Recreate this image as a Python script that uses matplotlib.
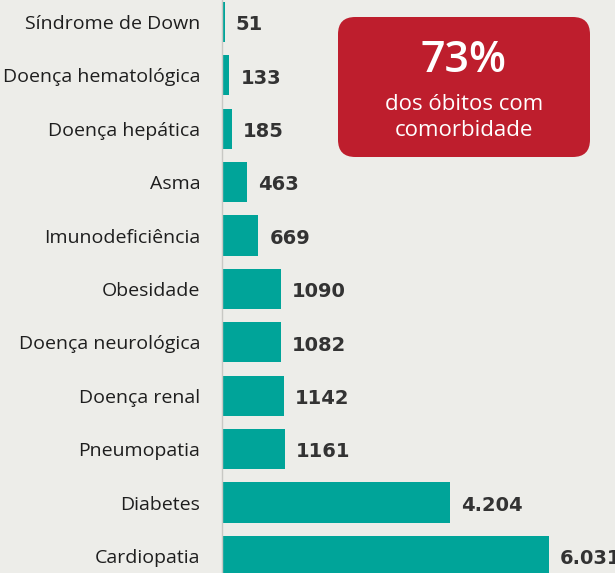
import matplotlib
matplotlib.use("Agg")
import matplotlib.pyplot as plt
from matplotlib.patches import FancyBboxPatch

categories = ["Síndrome de Down", "Doença hematológica", "Doença hepática", "Asma",
              "Imunodeficiência", "Obesidade", "Doença neurológica", "Doença renal",
              "Pneumopatia", "Diabetes", "Cardiopatia"]
values = [51, 133, 185, 463, 669, 1090, 1082, 1142, 1161, 4204, 6031]
value_labels = ["51", "133", "185", "463", "669", "1090", "1082", "1142", "1161", "4.204", "6.031"]

W, H, DPI = 615, 573, 100
bg = "#EDEDE9"
teal = "#00A499"
fig = plt.figure(figsize=(W / DPI, H / DPI), dpi=DPI, facecolor=bg)

left_px = 222
ax = fig.add_axes([left_px / W, 0, 1 - left_px / W, 1])
ax.set_facecolor("none")
ypos = list(range(len(categories)))
ax.barh(ypos, values, height=0.75, color=teal, zorder=2)
ax.set_ylim(10.32, -0.41)
ax.set_xlim(0, 7250)
for s in ["top", "right", "bottom"]:
    ax.spines[s].set_visible(False)
ax.spines["left"].set_color("#C8C8C4")
ax.spines["left"].set_linewidth(1.0)
ax.set_xticks([])
ax.set_yticks(ypos)
ax.set_yticklabels(categories, fontsize=14, color="#1E1E1E", fontweight="medium",
                   family=["Open Sans", "DejaVu Sans"])
ax.tick_params(axis="y", length=0, pad=15.5)

for y, v, lab in zip(ypos, values, value_labels):
    ax.annotate(lab, (v, y), xytext=(8, -2), textcoords="offset points",
                ha="left", va="center", fontsize=14, fontweight="bold",
                color="#333333", family=["DejaVu Sans"])

# red box
bx, by, bw, bh = 338, 17, 252, 140
box = FancyBboxPatch((bx / W, 1 - (by + bh) / H), bw / W, bh / H,
                     boxstyle="round,pad=0,rounding_size=0.028",
                     transform=fig.transFigure, facecolor="#BE1E2D", edgecolor="none",
                     mutation_aspect=W / H, zorder=5)
fig.patches.append(box)
cx = (bx + bw / 2) / W
fig.text(cx, 1 - 61 / H, "73%", ha="center", va="center", fontsize=31, color="white",
         fontweight="semibold", family=["Open Sans", "DejaVu Sans"], zorder=6)
fig.text(cx, 1 - 104 / H, "dos óbitos com", ha="center", va="center", fontsize=16,
         color="white", family=["Open Sans", "DejaVu Sans"], zorder=6)
fig.text(cx, 1 - 131 / H, "comorbidade", ha="center", va="center", fontsize=16,
         color="white", family=["Open Sans", "DejaVu Sans"], zorder=6)

fig.savefig("out.png", dpi=DPI, facecolor=bg)
